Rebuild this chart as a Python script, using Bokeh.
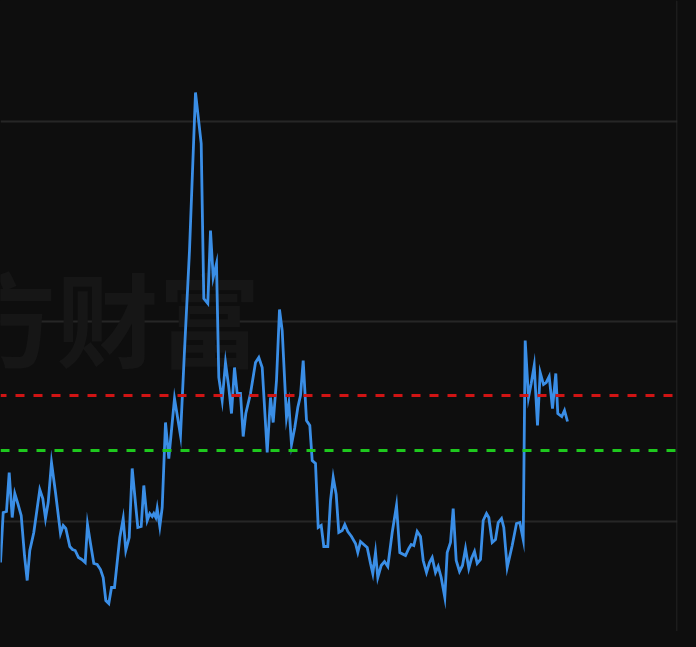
from bokeh.plotting import figure
from bokeh.models import Range1d, Span, Grid, FixedTicker, ColumnDataSource, GlobalInlineStyleSheet
from bokeh.core.properties import value
from bokeh.embed import file_html
from bokeh.resources import INLINE

# ---- data ----
day = [0, 2.7, 6, 8.7, 11.7, 14.3, 17.3, 20.7, 24, 26.7, 29.3, 33.3, 39.3, 42.3, 45, 47.7, 51, 55,
       60, 62.7, 65.3, 69.3, 72, 74.7, 78, 81.3, 84.7, 87, 90, 93.3, 96.7, 100, 102.7, 105.3, 108.3,
       111, 114, 119.3, 122.7, 125.3, 128.7, 131.7, 137.3, 140.7, 143.3, 146.7, 149.3, 151.7, 153.3,
       155.3, 156.7, 159.3, 161.7, 165, 168.3, 174, 180, 184, 189, 195, 200.7, 203.3, 207.3, 210,
       212.7, 216, 218.3, 221.7, 225, 228.3, 231, 234, 236.7, 240, 242.7, 245.3, 250, 255, 258.3,
       261.7, 266.7, 270, 272.7, 276, 279, 281.7, 286, 288.3, 291, 294.3, 297.3, 300, 302.7, 306,
       309.3, 311.7, 315, 317.7, 320.7, 323.3, 327.3, 330, 332.7, 335.7, 338.3, 341.7, 344.3, 347.3,
       351, 355, 357.3, 360, 363.3, 366.7, 370, 372.3, 375, 377.3, 380.7, 384, 387.3, 391.7, 396,
       399.3, 405, 408.3, 410.7, 413.3, 416.7, 420, 422.7, 426, 429, 431.7, 435, 437.7, 440.7, 444.3,
       446.7, 450, 452.7, 455.7, 459, 462, 465, 468.3, 471, 474, 476.7, 480, 482.7, 486, 488.3, 491.7,
       495, 497.7, 501, 503.3, 506.7, 511.7, 516, 519.3, 522.7, 524.7, 528, 530.7, 533.7, 537, 539.7,
       543, 545.7, 548.7, 552, 555.3, 557.3, 561.3, 564, 567]
val = [15.9, 20.9, 21.0, 24.9, 20.4, 22.8, 21.8, 20.6, 16.6, 14.1, 17.1, 18.9, 23.2, 22.3, 20.3, 21.9,
       25.9, 22.9, 18.8, 19.6, 19.3, 17.5, 17.2, 17.1, 16.4, 16.2, 15.9, 19.7, 17.8, 15.8, 15.7, 15.2,
       14.4, 12.1, 11.8, 13.4, 13.4, 18.4, 20.3, 17.1, 18.4, 25.3, 19.4, 19.5, 23.6, 20.1, 20.8, 20.5,
       20.8, 20.4, 21.3, 19.5, 21.4, 29.9, 26.3, 32.3, 28.6, 37.1, 47.1, 62.9, 57.8, 42.3, 41.8, 49.1,
       44.4, 45.8, 34.4, 32.1, 35.9, 33.4, 30.8, 35.4, 32.8, 32.8, 28.5, 30.8, 32.8, 35.9, 36.4, 35.4,
       26.9, 32.4, 29.9, 34.1, 41.2, 39.1, 30.4, 31.8, 27.7, 29.4, 31.4, 32.6, 36.1, 30.1, 29.6, 26.1,
       25.8, 19.4, 19.6, 17.5, 17.5, 22.1, 24.4, 22.7, 18.9, 19.1, 19.7, 19.0, 18.5, 17.8, 16.9, 18.0,
       17.7, 17.4, 15.8, 14.8, 16.9, 14.4, 15.6, 16.0, 15.5, 18.9, 21.6, 16.9, 16.6, 17.3, 17.7, 17.6,
       19.0, 18.5, 16.1, 14.9, 15.9, 16.4, 14.9, 15.5, 14.4, 12.4, 16.9, 17.9, 21.3, 16.1, 15.0, 15.6,
       17.3, 15.3, 16.3, 17.0, 15.8, 16.2, 20.1, 20.8, 20.4, 17.9, 18.2, 19.9, 20.3, 19.4, 15.4, 17.6,
       19.8, 19.9, 18.2, 38.1, 32.4, 33.8, 35.6, 29.6, 34.9, 33.7, 33.9, 34.5, 31.3, 34.8, 30.8, 30.5,
       31.1, 30.0]
grid_values = [20, 40, 60]
upper_level = 32.6
lower_level = 27.1
watermark = "东方财富"

BG = "#0e0e0e"

p = figure(width=680, height=631, output_backend="svg", toolbar_location=None,
           x_range=Range1d(0, 677), y_range=Range1d(9.0, 72.1),
           x_axis_location=None, y_axis_location=None,
           min_border_left=0, min_border_top=0, min_border_bottom=0, min_border_right=3,
           background_fill_color=BG, border_fill_color=BG, outline_line_color=None)
p.grid.visible = False
p.stylesheets = [GlobalInlineStyleSheet(css="body { background: #0e0e0e; }")]

g = Grid(dimension=1, ticker=FixedTicker(ticks=grid_values),
         grid_line_color="#262626", grid_line_width=2)
p.add_layout(g)

p.text(x=[-148], y=[40.6], text=[watermark], text_font=value("Noto Sans CJK SC"),
       text_font_style="bold", text_font_size="102px", text_color="#161616",
       text_baseline="middle", text_align="left")

p.add_layout(Span(location=676.5, dimension="height", line_color="#2a2a2a", line_width=1))

p.add_layout(Span(location=upper_level, dimension="width", line_color="#d01414",
                  line_width=3, line_dash="9 9", line_dash_offset=3))
p.add_layout(Span(location=lower_level, dimension="width", line_color="#1ec81e",
                  line_width=3, line_dash="9 9", line_dash_offset=0))

src = ColumnDataSource(dict(day=day, val=val))
p.line("day", "val", source=src, line_color="#3a8ee6", line_width=2.8, line_join="miter")

open("out.html", "w").write(file_html(p, INLINE))
